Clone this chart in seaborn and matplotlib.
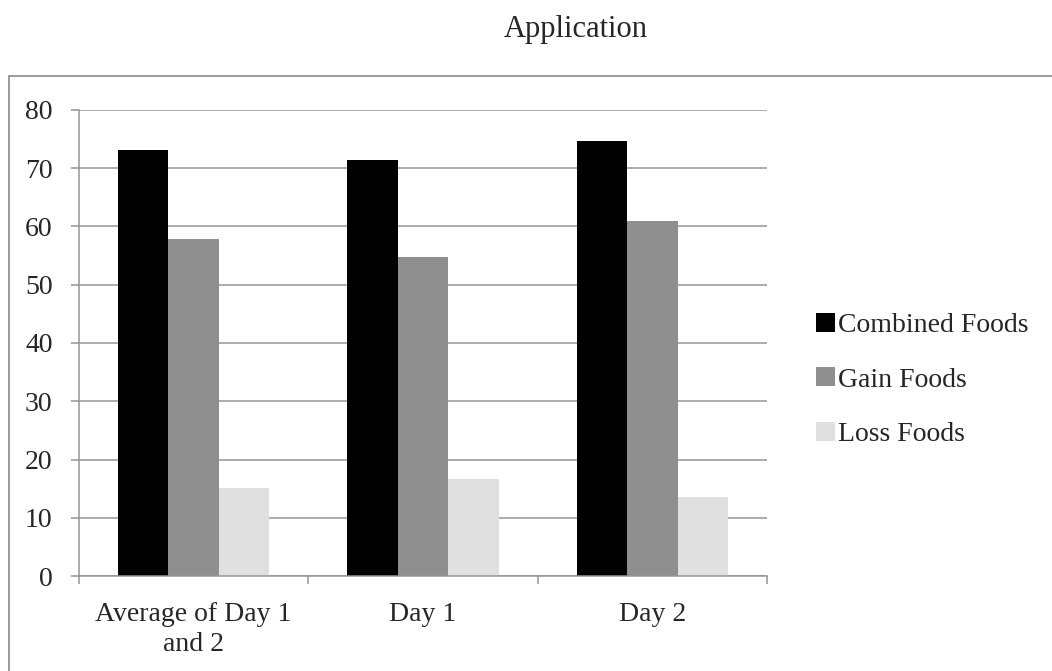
import seaborn as sns
import pandas as pd
import matplotlib.pyplot as plt
from matplotlib.patches import Rectangle

# values
days = ["Average of Day 1\nand 2", "Day 1", "Day 2"]
series = ["Combined Foods", "Gain Foods", "Loss Foods"]
combined = [73.1, 71.5, 74.7]
gain = [57.8, 54.7, 60.9]
loss = [15.15, 16.7, 13.6]
colors = ["#000000", "#8f8f8f", "#e0e0e0"]

df = pd.DataFrame({
    "Day": days * 3,
    "Series": [s for s in series for _ in days],
    "Value": combined + gain + loss,
})

sns.set_style("white")
plt.rcParams["font.family"] = ["Liberation Serif", "DejaVu Serif"]

grid_col = "#959595"

fig = plt.figure(figsize=(10.52, 6.71), dpi=100)
ax = fig.add_axes([79 / 1052, 1 - 576 / 671, 688 / 1052, 466 / 671])

sns.barplot(data=df, x="Day", y="Value", hue="Series", palette=colors,
            width=0.66, gap=0, saturation=1, linewidth=0, ax=ax)

ax.set_ylim(0, 80)
ax.set_xlim(-0.5, 2.5)
ax.set_yticks(range(0, 81, 10))
ax.set_axisbelow(True)
ax.yaxis.grid(True, color=grid_col, linewidth=1.1)
ax.xaxis.grid(False)
ax.set_xlabel(None)
ax.set_ylabel(None)

for side in ["top", "right"]:
    ax.spines[side].set_visible(False)
for side in ["left", "bottom"]:
    ax.spines[side].set_color(grid_col)
    ax.spines[side].set_linewidth(1.1)

ax.tick_params(axis="y", direction="out", length=6, width=1.1, color=grid_col,
               pad=13, labelsize=20, left=True)
ax.set_xticks([-0.5, 0.5, 1.5, 2.5], minor=True)
ax.tick_params(axis="x", which="minor", direction="out", length=6, width=1.1,
               color=grid_col, bottom=True)
ax.tick_params(axis="x", which="major", length=0, pad=19, labelsize=20)
for lab in ax.get_xticklabels():
    lab.set_linespacing(1.22)
    lab.set_va("top")

handles, labels = ax.get_legend_handles_labels()
ax.get_legend().remove()
fig.legend(handles, labels, loc="center left",
           bbox_to_anchor=(816 / 1052, 1 - 380 / 671), frameon=False,
           fontsize=20, handlelength=0.68, handleheight=0.68,
           handletextpad=0.12, labelspacing=1.04, borderpad=0,
           borderaxespad=0)

fig.text(576 / 1052, 1 - 30 / 671, "Application", ha="center", va="center",
         fontsize=22)

top = 1 - 76 / 671
fig.patches.append(Rectangle((9 / 1052, -0.1), 1.2, top + 0.1, fill=False,
                             edgecolor="#8a8a8a", linewidth=1.2,
                             transform=fig.transFigure, figure=fig))

fig.savefig("out.png", dpi=100)
